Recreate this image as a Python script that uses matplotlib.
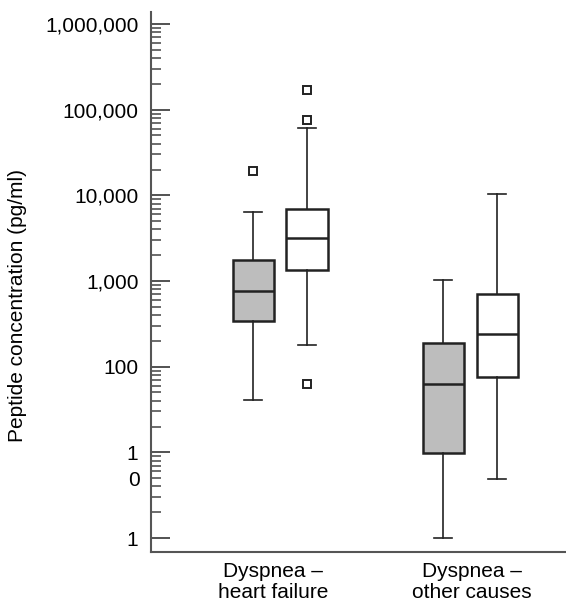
import matplotlib
matplotlib.use("Agg")
from matplotlib import pyplot as plt
from matplotlib import ticker
from matplotlib.transforms import blended_transform_factory
import numpy as np

plt.rcParams['font.family'] = ['Liberation Sans', 'DejaVu Sans']

# groups and the two boxes per group (gray, white)
groups = ["Dyspnea \u2013\nheart failure", "Dyspnea \u2013\nother causes"]
box_names = ["HF gray", "HF white", "Other gray", "Other white"]

# five-number summaries (pg/ml)
whislo = [41, 181, 1.0, 4.9]
q1 = [344, 1355, 9.7, 76]
med = [771, 3200, 62, 240]
q3 = [1760, 6870, 187, 705]
whishi = [6440, 61000, 1018, 10360]
fliers = [[19200], [75200, 169000, 63], [], []]

fills = ["#bdbdbd", "white", "#bdbdbd", "white"]

ytick_vals = [1, 10, 100, 1000, 10000, 100000, 1000000]
ytick_labels = ["1", "1", "100", "1,000", "10,000", "100,000", "1,000,000"]

group_pos = np.array([1.0, 2.0])
offset = 0.142
positions = [group_pos[0] - offset, group_pos[0] + offset,
             group_pos[1] - offset, group_pos[1] + offset]

stats = []
for i in range(len(box_names)):
    stats.append(dict(label=box_names[i], whislo=whislo[i], q1=q1[i],
                      med=med[i], q3=q3[i], whishi=whishi[i],
                      fliers=fliers[i]))

fs = 15

fig = plt.figure(figsize=(5.66, 6.04), dpi=100)
ax = fig.add_axes([151 / 566, 1 - 552 / 604, 1 - 151 / 566, 540 / 604])

edge = "#222222"
bp = ax.bxp(stats, positions=positions, widths=0.216, patch_artist=True,
            showfliers=True, capwidths=0.095,
            boxprops=dict(linewidth=1.8, edgecolor=edge),
            medianprops=dict(linewidth=1.8, color=edge),
            whiskerprops=dict(linewidth=1.2, color=edge),
            capprops=dict(linewidth=1.2, color=edge),
            flierprops=dict(marker='s', markersize=5.5, markerfacecolor='white',
                            markeredgecolor=edge, markeredgewidth=1.4,
                            linestyle='none'))
for patch, c in zip(bp['boxes'], fills):
    patch.set_facecolor(c)

ax.set_yscale('log')
ax.set_ylim(0.687, 1.38e6)
ax.set_xlim(0.321, 2.505)

ax.yaxis.set_major_locator(ticker.FixedLocator(ytick_vals))
ax.yaxis.set_major_formatter(ticker.FixedFormatter(ytick_labels))
minors = [m * 10 ** d for d in range(0, 6) for m in range(2, 10)]
ax.yaxis.set_minor_locator(ticker.FixedLocator(minors))
ax.yaxis.set_minor_formatter(ticker.NullFormatter())
ax.tick_params(axis='y', which='major', direction='in', length=14, width=1.3,
               color='#444444', labelsize=fs, pad=9)
ax.tick_params(axis='y', which='minor', direction='in', length=7, width=1.1,
               color='#444444')

# stray "0" under the "1" at the 10 tick
tr = blended_transform_factory(ax.transAxes, ax.transData)
ax.text(-11 / 415, 10 ** (1 - 28 / 85.67), "0", transform=tr, ha='right',
        va='center', fontsize=fs)

ax.set_xticks([0.965, 2.01])
ax.set_xticklabels(groups, fontsize=fs, linespacing=1.15)
ax.tick_params(axis='x', length=0, pad=7)

for s in ['top', 'right']:
    ax.spines[s].set_visible(False)
for s in ['left', 'bottom']:
    ax.spines[s].set_color('#555555')
    ax.spines[s].set_linewidth(1.5)

fig.text(18 / 566, 1 - 305 / 604, "Peptide concentration (pg/ml)",
         rotation=90, ha='center', va='center', fontsize=fs)

fig.savefig("out.png", dpi=100)
